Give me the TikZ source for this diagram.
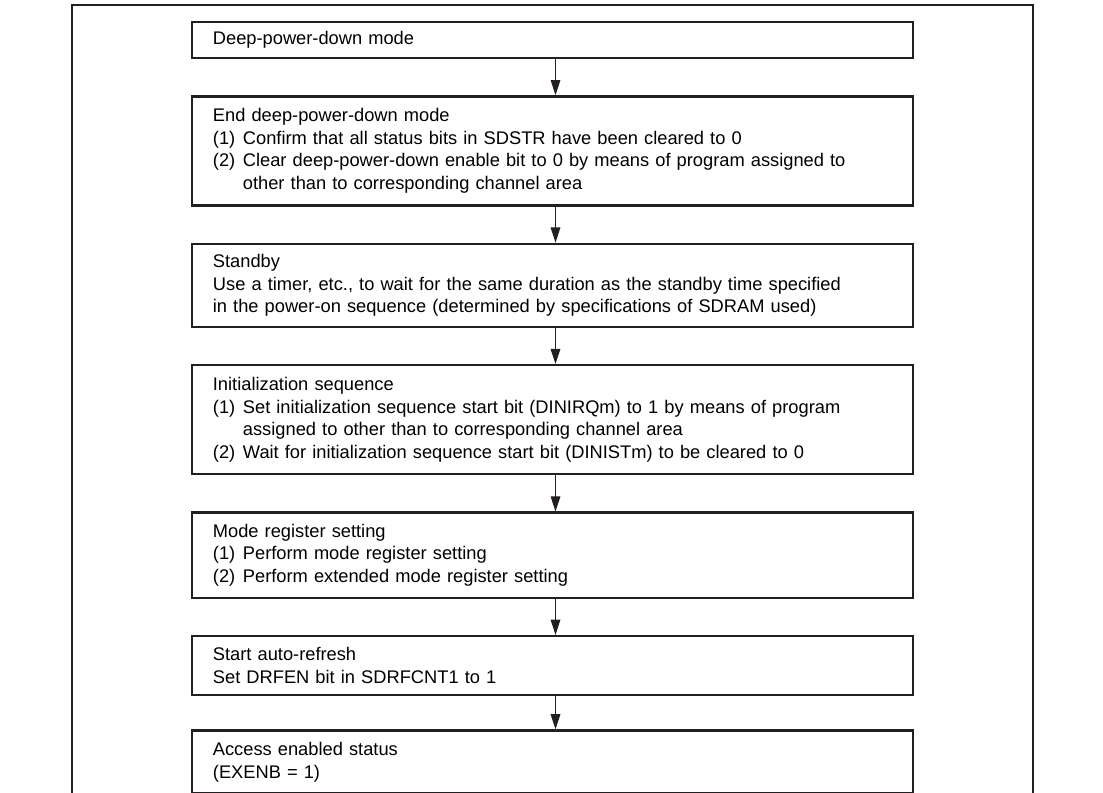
\documentclass[tikz,border=0pt]{standalone}
\usepackage{fontspec}
\setmainfont{Liberation Sans}
\usetikzlibrary{arrows.meta,positioning}
\definecolor{flowink}{HTML}{231F20}
\tikzset{
  stepbox/.style={
    draw=flowink,
    line width=1.7pt,
    minimum width=18.025cm,
    text width=16.975cm,
    inner xsep=0.525cm,
    inner ysep=0pt,
    align=left,
    font=\fontsize{13}{16}\selectfont
  },
  arrow/.style={
    -{Triangle[length=3.8mm,width=2.4mm]},
    line width=0.9pt,
    draw=flowink
  }
}
\newcommand{\stepitem}[2]{\par\hangindent=0.75cm\hangafter=1\noindent\makebox[0.75cm][l]{#1}#2\par}

\begin{document}
\begin{tikzpicture}[x=0.025cm, y=-0.025cm, node distance=0.9cm]
  \useasboundingbox (0,0) rectangle (1103,793);
  % figure frame
  \draw[flowink, line width=1.8pt] (72,793) -- (72,5) -- (1033,5) -- (1033,793);
  \node[stepbox, minimum height=0.9cm] (deep) at (552.5,40) {Deep-power-down mode};
  \node[stepbox, minimum height=2.725cm, below=of deep] (endDeep) {End deep-power-down mode
    \stepitem{(1)}{Confirm that all status bits in SDSTR have been cleared to 0}
    \stepitem{(2)}{Clear deep-power-down enable bit to 0 by means of program assigned to\newline other than to corresponding channel area}};
  \node[stepbox, minimum height=2.075cm, below=of endDeep] (standby) {Standby\\
    Use a timer, etc., to wait for the same duration as the standby time specified\\
    in the power-on sequence (determined by specifications of SDRAM used)};
  \node[stepbox, minimum height=2.725cm, below=of standby] (initSeq) {Initialization sequence
    \stepitem{(1)}{Set initialization sequence start bit (DINIRQm) to 1 by means of program\newline assigned to other than to corresponding channel area}
    \stepitem{(2)}{Wait for initialization sequence start bit (DINISTm) to be cleared to 0}};
  \node[stepbox, minimum height=2.125cm, below=of initSeq] (modeReg) {Mode register setting
    \stepitem{(1)}{Perform mode register setting}
    \stepitem{(2)}{Perform extended mode register setting}};
  \node[stepbox, minimum height=1.475cm, below=of modeReg] (autoRefresh) {Start auto-refresh\\
    Set DRFEN bit in SDRFCNT1 to 1};
  \node[stepbox, minimum height=1.575cm, below=0.825cm of autoRefresh] (access) {Access enabled status\\
    (EXENB = 1)};
  \foreach \a/\b in {deep/endDeep,endDeep/standby,standby/initSeq,initSeq/modeReg,modeReg/autoRefresh,autoRefresh/access} {
    \draw[arrow] ([xshift=0.075cm]\a.south) -- ([xshift=0.075cm]\b.north);
  }
\end{tikzpicture}
\end{document}
